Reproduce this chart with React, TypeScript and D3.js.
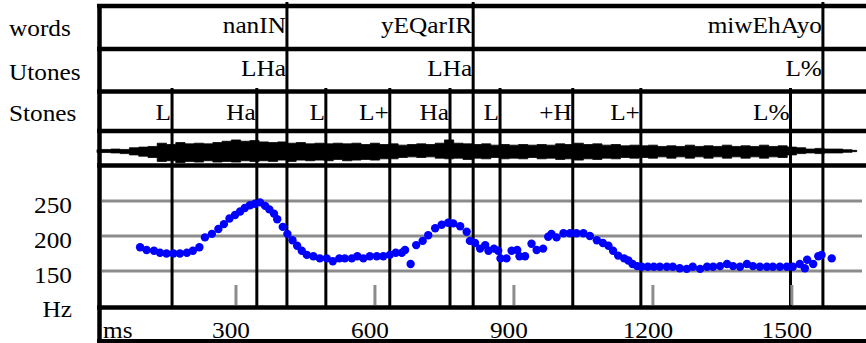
import React from "react";
import * as d3 from "d3";

// ---------- data ----------
const tierNames = ["words", "Utones", "Stones"];
const wordLabels = ["nanIN", "yEQarIR", "miwEhAyo"];
const wordEnds = [410, 812, 1567];
const utoneLabels = ["LHa", "LHa", "L%"];
const utoneEnds = [410, 812, 1567];
const stoneLabels = ["L", "Ha", "L", "L+", "Ha", "L", "+H", "L+", "L%"];
const stoneEnds = [162, 345, 494, 632, 762, 870, 1027, 1174, 1497];

const timeTicks = [300, 600, 900, 1200, 1500];
const hzTicks = [250, 200, 150];

const pitchTimes = [93,107,123,136,150,165,179,194,207,221,233,248,262,274,286,298,309,319,330,341,352,363,372,382,389,401,411,422,432,442,453,467,481,496,509,523,535,550,562,575,589,604,618,632,645,658,665,677,689,703,715,730,744,758,769,784,798,805,816,827,838,845,857,866,871,884,895,907,912,924,938,949,963,974,981,992,1007,1021,1035,1050,1064,1079,1092,1104,1114,1125,1138,1147,1156,1166,1176,1189,1202,1215,1230,1243,1258,1273,1286,1302,1317,1330,1345,1360,1373,1388,1403,1416,1431,1446,1459,1474,1489,1502,1517,1528,1533,1546,1557,1564,1586];
const pitchHz = [184,180,179,176,175,175,175,176,179,184,198,203,210,217,225,230,235,240,244,246,248,243,238,232,224,213,203,194,186,179,173,171,168,168,164,168,168,168,171,168,171,171,171,173,176,176,180,160,187,193,201,211,216,219,218,214,206,193,190,182,187,179,182,179,168,168,179,180,171,171,189,180,182,199,203,198,204,204,204,204,200,194,190,186,179,172,168,165,160,157,156,156,156,156,156,156,154,153,156,153,156,156,157,160,157,156,160,157,156,156,156,156,156,156,160,154,166,160,171,173,168];

const waveTimes = [0,20,40,60,80,100,120,140,160,180,200,220,240,260,280,300,320,340,360,380,400,420,440,460,480,500,520,540,560,580,600,620,640,660,680,700,720,740,760,780,800,820,840,860,880,900,920,940,960,980,1000,1020,1040,1060,1080,1100,1120,1140,1160,1180,1200,1220,1240,1260,1280,1300,1320,1340,1360,1380,1400,1420,1440,1460,1480,1500,1520,1540,1560,1580,1600,1620,1640];
const waveTop = [.1,.12,.15,.12,.25,.3,.35,.6,.5,.65,.55,.6,.55,.65,.75,.85,.75,.8,.7,.65,.7,.6,.65,.55,.6,.55,.6,.55,.6,.5,.6,.5,.55,.45,.5,.55,.5,.6,.85,.6,.55,.5,.55,.45,.5,.45,.5,.45,.5,.45,.55,.5,.6,.5,.55,.45,.5,.4,.45,.4,.45,.35,.4,.35,.45,.35,.4,.35,.45,.35,.4,.35,.45,.35,.4,.3,.25,.15,.2,.15,.15,.1,.05];
const waveBottom = [.12,.12,.15,.2,.3,.4,.5,.8,.75,.9,.8,.85,.75,.85,.8,.85,.75,.8,.75,.8,.7,.8,.7,.75,.7,.75,.65,.75,.7,.65,.7,.6,.6,.5,.45,.5,.45,.55,.6,.55,.65,.55,.6,.5,.6,.55,.6,.5,.6,.55,.65,.6,.7,.6,.65,.55,.6,.5,.55,.5,.55,.45,.55,.45,.55,.45,.55,.45,.55,.45,.55,.45,.55,.45,.5,.3,.2,.15,.2,.15,.15,.1,.05];

// ---------- layout ----------
const W = 866, H = 343;
const FONT = "'Liberation Serif', 'Times New Roman', serif";
const FS = 23;
const SX = 1.1;

const x = d3.scaleLinear().domain([0, 1660]).range([97, 866]);
const y = d3.scaleLinear().domain([100, 300]).range([306, 166]);
const wy = d3.scaleLinear().domain([-1, 1]).range([164, 138]);

const T = (props: { x: number; y: number; anchor?: string; children: any }) => (
  <text
    transform={`translate(${props.x},${props.y}) scale(${SX},1)`}
    textAnchor={props.anchor || "start"}
    fontFamily={FONT}
    fontSize={FS}
    fill="#000"
  >
    {props.children}
  </text>
);

export default function App() {
  const waveArea = d3
    .area<number>()
    .x((_, i) => x(waveTimes[i]))
    .y0((_, i) => wy(-waveBottom[i]))
    .y1((_, i) => wy(waveTop[i]))
    .curve(d3.curveStep)(waveTimes);

  const tierBase = [33, 76, 120];
  const labelBase = [36, 80, 121];
  const tierTops = [2, 46, 88];

  return (
    <svg width={W} height={H} style={{ position: "absolute", left: 0, top: 0, background: "#fff" }}>
      <rect x={0} y={0} width={W} height={H} fill="#fff" />
      {hzTicks.map((h) => (
        <line key={h} x1={102} x2={862} y1={y(h)} y2={y(h)} stroke="#8c8c8c" strokeWidth={3} />
      ))}
      <path d={waveArea || ""} fill="#000" stroke="#000" strokeWidth={0.8} />
      {wordEnds.map((t) => (
        <line key={"w" + t} x1={x(t)} x2={x(t)} y1={tierTops[0]} y2={306} stroke="#000" strokeWidth={3} />
      ))}
      {stoneEnds.map((t) => (
        <line key={"s" + t} x1={x(t)} x2={x(t)} y1={tierTops[2]} y2={306} stroke="#000" strokeWidth={3} />
      ))}
      {[6, 49, 91.5, 131, 165.5, 307.5].map((yy) => (
        <line key={yy} x1={97} x2={W} y1={yy} y2={yy} stroke="#000" strokeWidth={4.5} />
      ))}
      <line x1={97} x2={W} y1={341} y2={341} stroke="#000" strokeWidth={4} />
      <line x1={99.5} x2={99.5} y1={4} y2={343} stroke="#000" strokeWidth={4.5} />
      {timeTicks.map((t) => (
        <line key={"tk" + t} x1={x(t)} x2={x(t)} y1={285} y2={305} stroke="#8c8c8c" strokeWidth={3} />
      ))}
      {pitchTimes.map((t, i) => (
        <circle key={"p" + i} cx={x(t)} cy={y(pitchHz[i])} r={4.2} fill="#0000ff" />
      ))}
      {tierNames.map((n, i) => (
        <T key={n} x={9} y={labelBase[i]}>{n}</T>
      ))}
      {wordLabels.map((l, i) => (
        <T key={"wl" + i} x={x(wordEnds[i]) - 1} y={tierBase[0]} anchor="end">{l}</T>
      ))}
      {utoneLabels.map((l, i) => (
        <T key={"ul" + i} x={x(utoneEnds[i]) - 1} y={tierBase[1]} anchor="end">{l}</T>
      ))}
      {stoneLabels.map((l, i) => (
        <T key={"sl" + i} x={x(stoneEnds[i]) - 1} y={tierBase[2]} anchor="end">{l}</T>
      ))}
      {hzTicks.map((h) => (
        <T key={"hl" + h} x={72} y={y(h) + 12} anchor="end">{String(h)}</T>
      ))}
      <T x={72} y={y(100) + 11} anchor="end">Hz</T>
      <T x={103} y={338}>ms</T>
      {timeTicks.map((t) => (
        <T key={"tl" + t} x={x(t) - 5} y={338} anchor="middle">{String(t)}</T>
      ))}
    </svg>
  );
}
